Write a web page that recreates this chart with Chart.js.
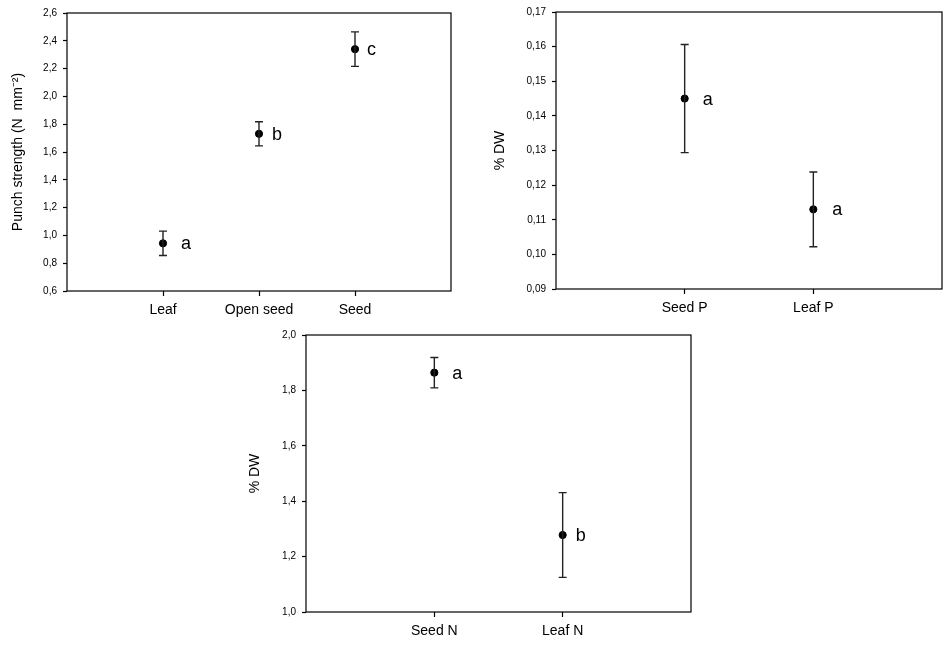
<!DOCTYPE html>
<html>
<head>
<meta charset="utf-8">
<script src="https://cdn.jsdelivr.net/npm/chart.js@4.4.1/dist/chart.umd.min.js"></script>
<style>
  body { margin: 0; background: #fff; }
  .panel { position: absolute; }
</style>
</head>
<body>
<div class="panel" style="left:0;top:0;width:470px;height:330px"><canvas id="punch"></canvas></div>
<div class="panel" style="left:480px;top:0;width:472px;height:330px"><canvas id="phos"></canvas></div>
<div class="panel" style="left:230px;top:320px;width:480px;height:332px"><canvas id="nitro"></canvas></div>
<script>
// punch strength panel
const punchCats = ['Leaf', 'Open seed', 'Seed'];
const punchMean = [0.943, 1.731, 2.34];
const punchErr = [0.088, 0.087, 0.124];
const punchLetters = ['a', 'b', 'c'];
const punchTicks = [0.6, 2.6, 0.2]; // min, max, step

// phosphorus panel
const phosCats = ['Seed P', 'Leaf P'];
const phosMean = [0.145, 0.113];
const phosErr = [0.0156, 0.0108];
const phosLetters = ['a', 'a'];
const phosTicks = [0.09, 0.17, 0.01];

// nitrogen panel
const nitroCats = ['Seed N', 'Leaf N'];
const nitroMean = [1.864, 1.278];
const nitroErr = [0.055, 0.153];
const nitroLetters = ['a', 'b'];
const nitroTicks = [1.0, 2.0, 0.2];

const FONT = "'Liberation Sans', Arial, sans-serif";

const errorBars = {
  id: 'errorBars',
  afterDatasetsDraw(chart, args, opts) {
    const { ctx, scales: { x, y }, chartArea } = chart;
    ctx.save();
    // frame
    ctx.strokeStyle = '#000';
    ctx.lineWidth = 1.2;
    ctx.strokeRect(chartArea.left, chartArea.top, chartArea.right - chartArea.left, chartArea.bottom - chartArea.top);
    ctx.strokeStyle = '#222';
    ctx.lineWidth = 1.4;
    opts.mean.forEach((m, i) => {
      const px = x.getPixelForValue(i + 1);
      const top = y.getPixelForValue(m + opts.err[i]);
      const bot = y.getPixelForValue(m - opts.err[i]);
      ctx.beginPath();
      ctx.moveTo(px, top); ctx.lineTo(px, bot);
      ctx.moveTo(px - 4, top); ctx.lineTo(px + 4, top);
      ctx.moveTo(px - 4, bot); ctx.lineTo(px + 4, bot);
      ctx.stroke();
      ctx.fillStyle = '#000';
      ctx.font = '18px ' + FONT;
      ctx.textAlign = 'left';
      ctx.textBaseline = 'middle';
      ctx.fillText(opts.letters[i], px + opts.shift[i], y.getPixelForValue(m) + 1);
    });
    ctx.restore();
  }
};

function makePanel(id, cats, mean, err, letters, ticks, cfg) {
  const decimals = ticks[2] < 0.1 ? 2 : 1;
  new Chart(document.getElementById(id), {
    type: 'scatter',
    data: {
      datasets: [{
        data: mean.map((m, i) => ({ x: i + 1, y: m })),
        backgroundColor: '#000',
        borderColor: '#000',
        pointRadius: 3.6,
        pointHoverRadius: 3.6
      }]
    },
    options: {
      responsive: true,
      maintainAspectRatio: false,
      animation: false,
      events: [],
      layout: { padding: { left: 0, top: cfg.top, right: cfg.right, bottom: 0 } },
      plugins: {
        legend: { display: false },
        tooltip: { enabled: false },
        errorBars: { mean: mean, err: err, letters: letters, shift: cfg.shift }
      },
      scales: {
        x: {
          type: 'linear',
          min: 0,
          max: cats.length + 1,
          afterBuildTicks: s => { s.ticks = cats.map((c, i) => ({ value: i + 1 })); },
          afterFit: s => { s.height = cfg.xh; },
          grid: { drawOnChartArea: false, drawTicks: true, tickLength: 5, tickColor: '#000', tickWidth: 1.2 },
          border: { display: false },
          ticks: {
            color: '#000',
            padding: 6,
            maxRotation: 0,
            font: { family: FONT, size: 14 },
            callback: v => cats[v - 1] || ''
          }
        },
        y: {
          min: ticks[0],
          max: ticks[1],
          afterFit: s => { s.width = cfg.yw; },
          grid: { drawOnChartArea: false, drawTicks: true, tickLength: 4, tickColor: '#000', tickWidth: 1.2 },
          border: { display: false },
          ticks: {
            stepSize: ticks[2],
            color: '#000',
            padding: 6,
            font: { family: FONT, size: 10 },
            callback: v => v.toFixed(decimals).replace('.', ',')
          },
          title: {
            display: true,
            text: cfg.title,
            color: '#000',
            padding: { top: cfg.titlePad, bottom: 0 },
            font: { family: FONT, size: 14 }
          }
        }
      }
    },
    plugins: [errorBars]
  });
}

makePanel('punch', punchCats, punchMean, punchErr, punchLetters, punchTicks,
  { top: 13, right: 19, xh: 39, yw: 67, titlePad: 10, title: 'Punch strength (N  mm\u207B\u00B2)', shift: [18, 13, 12] });
makePanel('phos', phosCats, phosMean, phosErr, phosLetters, phosTicks,
  { top: 11, right: 10, xh: 41, yw: 76, titlePad: 12, title: '% DW', shift: [18, 19] });
makePanel('nitro', nitroCats, nitroMean, nitroErr, nitroLetters, nitroTicks,
  { top: 15, right: 19, xh: 40, yw: 76, titlePad: 17, title: '% DW', shift: [18, 13] });
</script>
</body>
</html>
